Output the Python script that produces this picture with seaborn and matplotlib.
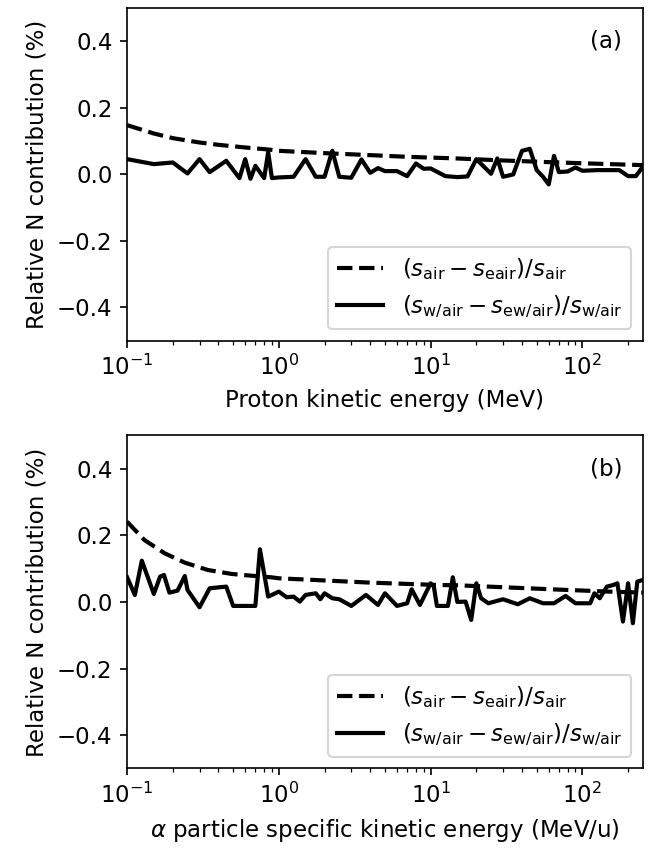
import matplotlib
matplotlib.use("Agg")
import matplotlib.pyplot as plt
import seaborn as sns

# -------------------- DATA --------------------
# (a) protons, dashed: (s_air - s_eair)/s_air
proton_dash_E = [0.1, 0.15, 0.2, 0.3, 0.4, 0.6, 0.85, 1, 2, 4, 7, 15, 30, 60, 110, 250]
proton_dash_y = [0.147, 0.122, 0.108, 0.095, 0.088, 0.080, 0.074, 0.070, 0.063, 0.057,
                 0.052, 0.047, 0.041, 0.036, 0.032, 0.027]

# (a) protons, solid: (s_w/air - s_ew/air)/s_w/air
proton_solid_E = [0.1, 0.15, 0.2, 0.25, 0.3, 0.35, 0.45, 0.55, 0.6, 0.65,
                  0.7, 0.8, 0.85, 0.9, 1.0, 1.25, 1.5, 1.75, 2.0, 2.25,
                  2.5, 3.0, 3.5, 4.0, 4.5, 5.0, 6.0, 7.0, 8.0, 9.0,
                  10, 12.5, 15, 17.5, 20, 25, 27.5, 30, 35, 40,
                  45, 50, 55, 60, 65, 70, 80, 90, 100, 125,
                  150, 175, 200, 225, 250]
proton_solid_y = [0.045, 0.030, 0.035, 0.002, 0.045, 0.006, 0.040, -0.012, 0.045, -0.014,
                  0.025, -0.012, 0.066, -0.012, -0.010, -0.008, 0.045, -0.008, -0.008, 0.070,
                  -0.008, -0.011, 0.044, 0.004, 0.018, 0.009, 0.009, -0.006, 0.032, 0.016,
                  0.017, -0.006, -0.009, -0.007, 0.045, 0.001, 0.047, -0.008, -0.001, 0.070,
                  0.076, 0.012, -0.008, -0.031, 0.055, 0.006, 0.008, 0.020, 0.010, 0.012,
                  0.012, 0.012, -0.006, -0.006, 0.022]

# (b) alpha particles, dashed
alpha_dash_E = [0.1, 0.13, 0.177, 0.24, 0.34, 0.49, 0.69, 0.89, 1, 4, 11, 15, 70, 150, 250]
alpha_dash_y = [0.241, 0.186, 0.146, 0.118, 0.096, 0.084, 0.078, 0.074, 0.071, 0.058,
                0.051, 0.050, 0.037, 0.031, 0.028]

# (b) alpha particles, solid
alpha_solid_E = [0.1, 0.1125, 0.125, 0.15, 0.165, 0.175, 0.19, 0.215, 0.24, 0.25,
                 0.3, 0.35, 0.45, 0.5, 0.7, 0.75, 0.85, 1.0, 1.125, 1.25,
                 1.375, 1.5, 1.75, 1.875, 2.0, 2.25, 2.5, 3.0, 3.75, 4.5,
                 5.0, 6.0, 7.0, 7.5, 8.5, 10, 10.5, 11, 13, 14,
                 15, 17, 18.5, 20, 21.5, 24, 30, 37.5, 45, 55,
                 65, 77.5, 90, 112.5, 120, 130, 145, 160, 170, 185,
                 200, 215, 230, 250]
alpha_solid_y = [0.074, 0.021, 0.124, 0.024, 0.076, 0.081, 0.028, 0.034, 0.078, 0.036,
                 -0.016, 0.041, 0.046, -0.012, -0.012, 0.158, 0.016, 0.031, 0.014, 0.016,
                 0.001, 0.021, 0.026, 0.008, 0.026, 0.011, 0.008, -0.012, 0.021, -0.009,
                 0.026, -0.012, -0.004, 0.038, -0.009, 0.056, 0.046, -0.012, -0.012, 0.074,
                 0.000, 0.001, -0.054, 0.056, 0.011, -0.004, 0.008, -0.007, 0.011, -0.004,
                 -0.004, 0.018, -0.004, -0.004, 0.026, 0.011, 0.046, 0.051, 0.056, -0.059,
                 0.056, -0.064, 0.061, 0.066]

LABEL_DASH = r'$(s_\mathrm{air} - s_\mathrm{eair})/s_\mathrm{air}$'
LABEL_SOLID = r'$(s_\mathrm{w/air} - s_\mathrm{ew/air})/s_\mathrm{w/air}$'

# -------------------- PLOT --------------------
plt.rcParams['font.size'] = 11

fig, axes = plt.subplots(2, 1, figsize=(662 / 150, 850 / 150), dpi=150)
fig.subplots_adjust(left=0.192, right=0.971, top=0.991, bottom=0.096, hspace=0.285)

panels = [
    (axes[0], proton_dash_E, proton_dash_y, proton_solid_E, proton_solid_y,
     "Proton kinetic energy (MeV)", "(a)"),
    (axes[1], alpha_dash_E, alpha_dash_y, alpha_solid_E, alpha_solid_y,
     r"$\alpha$ particle specific kinetic energy (MeV/u)", "(b)"),
]

for ax, dE, dy, sE, sy, xlabel, tag in panels:
    sns.lineplot(x=dE, y=dy, ax=ax, color='k', linestyle='--', linewidth=2, label=LABEL_DASH)
    sns.lineplot(x=sE, y=sy, ax=ax, color='k', linestyle='-', linewidth=2, label=LABEL_SOLID)
    ax.set_xscale('log')
    ax.set_xlim(0.1, 250)
    ax.set_ylim(-0.5, 0.5)
    ax.set_yticks([-0.4, -0.2, 0.0, 0.2, 0.4])
    ax.set_xlabel(xlabel)
    ax.set_ylabel("Relative N contribution (%)")
    ax.text(0.96, 0.9, tag, transform=ax.transAxes, ha='right', va='center', fontsize=11)
    ax.legend(loc='lower right')

fig.savefig("out.png", dpi=150)
